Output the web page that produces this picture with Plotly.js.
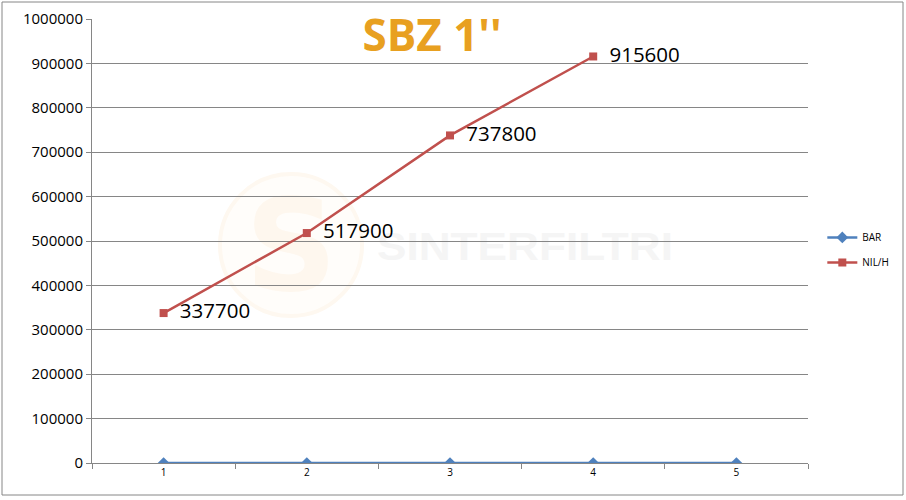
<!DOCTYPE html>
<html>
<head>
<meta charset="utf-8">
<script src="https://cdn.plot.ly/plotly-3.0.1.min.js"></script>
<style>html,body{margin:0;padding:0;background:#fff;}#chart{width:906px;height:500px;}</style>
</head>
<body>
<div id="chart"></div>
<script>
const categories = ["1", "2", "3", "4", "5"];
const barValues = [0, 0, 0, 0, 0];
const nilCategories = ["1", "2", "3", "4"];
const nilValues = [337700, 517900, 737800, 915600];
const yTicks = [0, 100000, 200000, 300000, 400000, 500000, 600000, 700000, 800000, 900000, 1000000];

const traces = [
  {
    x: categories, y: barValues, name: "BAR", type: "scatter", mode: "lines+markers",
    line: {color: "#4F81BD", width: 2.5},
    marker: {symbol: "diamond", size: 9, color: "#4F81BD"},
    legendgroup: "a"
  },
  {
    x: nilCategories, y: nilValues, name: "NIL/H", type: "scatter", mode: "lines+markers+text",
    line: {color: "#C0504D", width: 2.5},
    marker: {symbol: "square", size: 8, color: "#C0504D"},
    text: nilValues.map(String), texttemplate: "\u2002%{text}", textposition: "middle right",
    textfont: {family: "Open Sans", size: 20.5, color: "#000"},
    cliponaxis: false,
    legendgroup: "b"
  }
];

// faint background watermark (decoration only, drawn below the plot as an image)
const wmSvg = '<svg xmlns="http://www.w3.org/2000/svg" width="462" height="150" viewBox="0 0 462 150">' +
  '<circle cx="73" cy="75" r="71" fill="#FFFDFA" stroke="#FEF8F0" stroke-width="4"/>' +
  '<text x="73" y="120" text-anchor="middle" font-family="DejaVu Sans" font-weight="bold" font-size="128" fill="#FEF7EE">S</text>' +
  '<text x="159" y="90" textLength="296" lengthAdjust="spacingAndGlyphs" font-family="Liberation Sans" font-weight="bold" font-size="39" fill="#F5F5F5">SINTERFILTRI</text>' +
  '</svg>';

const layout = {
  width: 906, height: 500,
  margin: {l: 92, r: 98, t: 19, b: 37},
  paper_bgcolor: "#fff", plot_bgcolor: "rgba(0,0,0,0)",
  title: {
    text: "SBZ 1''", x: 0.477, xanchor: "center", xref: "container",
    y: 0.928, yanchor: "middle", yref: "container",
    font: {family: "Open Sans", size: 44, color: "#E8A020", weight: "bold"}
  },
  xaxis: {
    type: "category", categoryorder: "array", categoryarray: categories,
    range: [-0.5, 4.5], showgrid: false, zeroline: false,
    showline: true, linecolor: "#868686", linewidth: 1,
    ticks: "outside", tickson: "boundaries", ticklen: 5, tickcolor: "#868686",
    tickfont: {family: "Open Sans", size: 10, color: "#000"}
  },
  yaxis: {
    range: [0, 1000000], tickvals: yTicks, ticktext: yTicks.map(String),
    showgrid: true, gridcolor: "#868686", gridwidth: 1, zeroline: false,
    showline: true, linecolor: "#868686", linewidth: 1,
    ticks: "outside", ticklen: 5, tickcolor: "#868686",
    tickfont: {family: "Open Sans", size: 15, color: "#000"}
  },
  showlegend: true,
  legend: {
    x: 1.02, y: 0.48, xanchor: "left", yanchor: "middle",
    font: {family: "Open Sans", size: 10, color: "#000"},
    traceorder: "grouped", tracegroupgap: 6, bgcolor: "rgba(0,0,0,0)"
  },
  images: [
    {source: "data:image/svg+xml;charset=utf-8," + encodeURIComponent(wmSvg),
     xref: "paper", yref: "paper", x: (218 - 92) / 716, y: (463 - 170) / 444,
     sizex: 462 / 716, sizey: 150 / 444, sizing: "stretch",
     xanchor: "left", yanchor: "top", layer: "below", opacity: 1}
  ],
  shapes: [
    {type: "rect", xref: "paper", yref: "paper", layer: "above",
     x0: (2 - 92) / 716, x1: (903 - 92) / 716, y0: (463 - 495) / 444, y1: (463 - 2) / 444,
     line: {color: "#868686", width: 1}, fillcolor: "rgba(0,0,0,0)"}
  ]
};

Plotly.newPlot("chart", traces, layout, {displayModeBar: false, staticPlot: true});
</script>
</body>
</html>
